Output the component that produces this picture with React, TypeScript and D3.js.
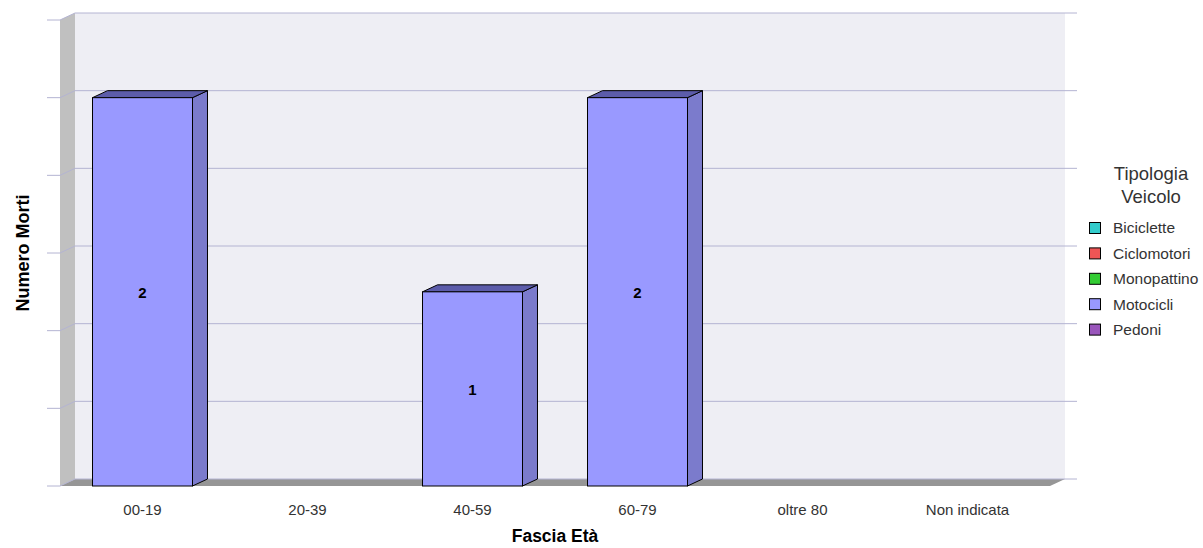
import React from "react";
import * as d3 from "d3";

const categories = ["00-19", "20-39", "40-59", "60-79", "oltre 80", "Non indicata"];
const seriesNames = ["Biciclette", "Ciclomotori", "Monopattino", "Motocicli", "Pedoni"];
const biciclette = [0, 0, 0, 0, 0, 0];
const ciclomotori = [0, 0, 0, 0, 0, 0];
const monopattino = [0, 0, 0, 0, 0, 0];
const motocicli = [2, 0, 1, 2, 0, 0];
const pedoni = [0, 0, 0, 0, 0, 0];
const yTicks = [0, 0.4, 0.8, 1.2, 1.6, 2.0, 2.4];
const seriesColors = ["#33cccc", "#ee5555", "#33cc33", "#9999ff", "#9955bb"];
const sideColors = ["#26999a", "#b34040", "#269926", "#7b7bcc", "#733f8c"];
const topColors = ["#1f7a7a", "#8f3333", "#1f7a1f", "#5c5caa", "#5c3370"];

const FONT = "'Liberation Sans', Arial, Helvetica, sans-serif";

export default function App() {
  const W = 1203, H = 548;
  const x0 = 60, x1 = 1050, yTop = 20, yBot = 486;
  const dx = 15, dy = -7;
  const x = d3.scaleBand<string>().domain(categories).range([x0, x1]).padding(0);
  const y = d3.scaleLinear().domain([0, 2.4]).range([yBot, yTop]);
  const barW = x.bandwidth() * 0.606;

  const rows = categories.map((c, i) => ({
    cat: c,
    Biciclette: biciclette[i],
    Ciclomotori: ciclomotori[i],
    Monopattino: monopattino[i],
    Motocicli: motocicli[i],
    Pedoni: pedoni[i],
  }));
  const stacked = d3.stack<any>().keys(seriesNames)(rows);

  const gridColor = "#b4b4d2";

  return (
    <svg width={W} height={H} style={{ position: "absolute", left: 0, top: 0, background: "#fff" }}>
      {/* back wall */}
      <rect x={x0 + dx} y={yTop + dy} width={x1 - x0} height={yBot - yTop} fill="#eeeef4" />
      {/* left wall */}
      <polygon
        points={`${x0},${yTop} ${x0 + dx},${yTop + dy} ${x0 + dx},${yBot + dy} ${x0},${yBot}`}
        fill="#c0c0c0"
      />
      {/* floor */}
      <polygon
        points={`${x0},${yBot} ${x1},${yBot} ${x1 + dx},${yBot + dy} ${x0 + dx},${yBot + dy}`}
        fill="#969696"
      />
      {/* gridlines */}
      {yTicks.map((t, i) => {
        const yy = y(t);
        return (
          <g key={i}>
            <line x1={47} x2={x0} y1={yy} y2={yy} stroke={gridColor} strokeWidth={1} />
            <polyline
              points={`${x0},${yy} ${x0 + dx},${yy + dy} ${x1 + dx + 12},${yy + dy}`}
              fill="none"
              stroke={gridColor}
              strokeWidth={1}
            />
          </g>
        );
      })}
      {/* bars */}
      {stacked.map((s, si) =>
        s.map((d, ci) => {
          if (d[1] - d[0] <= 0) return null;
          const cx = (x(categories[ci]) as number) + x.bandwidth() / 2;
          const bx = cx - barW / 2;
          const yt = y(d[1]);
          const yb = y(d[0]);
          return (
            <g key={`${si}-${ci}`} stroke="#000" strokeWidth={1} strokeLinejoin="miter">
              <polygon
                points={`${bx + barW},${yt} ${bx + barW + dx},${yt + dy} ${bx + barW + dx},${yb + dy} ${bx + barW},${yb}`}
                fill={sideColors[si]}
              />
              <polygon
                points={`${bx},${yt} ${bx + dx},${yt + dy} ${bx + barW + dx},${yt + dy} ${bx + barW},${yt}`}
                fill={topColors[si]}
              />
              <rect x={bx} y={yt} width={barW} height={yb - yt} fill={seriesColors[si]} />
            </g>
          );
        })
      )}
      {/* value labels */}
      {stacked.map((s, si) =>
        s.map((d, ci) => {
          const v = d[1] - d[0];
          if (v <= 0) return null;
          const cx = (x(categories[ci]) as number) + x.bandwidth() / 2;
          return (
            <text
              key={`l${si}-${ci}`}
              x={cx}
              y={(y(d[0]) + y(d[1])) / 2 + 1}
              dy="0.35em"
              textAnchor="middle"
              fontFamily={FONT}
              fontWeight="bold"
              fontSize={15}
              fill="#000"
            >
              {v}
            </text>
          );
        })
      )}
      {/* category labels */}
      {categories.map((c) => (
        <text
          key={c}
          x={(x(c) as number) + x.bandwidth() / 2}
          y={515}
          textAnchor="middle"
          fontFamily={FONT}
          fontSize={15}
          fill="#333"
        >
          {c}
        </text>
      ))}
      {/* axis titles */}
      <text x={(x0 + x1) / 2} y={542} textAnchor="middle" fontFamily={FONT} fontWeight="bold" fontSize={17.5} fill="#000">
        Fascia Età
      </text>
      <text
        transform={`translate(29,${(yTop + yBot) / 2}) rotate(-90)`}
        textAnchor="middle"
        fontFamily={FONT}
        fontWeight="bold"
        fontSize={18}
        fill="#000"
      >
        Numero Morti
      </text>
      {/* legend */}
      <text x={1151} y={180} textAnchor="middle" fontFamily={FONT} fontSize={18.5} fill="#333">
        Tipologia
      </text>
      <text x={1151} y={203} textAnchor="middle" fontFamily={FONT} fontSize={18.5} fill="#333">
        Veicolo
      </text>
      {seriesNames.map((n, i) => {
        const cy = 228 + i * 25.4;
        return (
          <g key={n}>
            <rect x={1089.5} y={cy - 5.5} width={11} height={11} fill={seriesColors[i]} stroke="#000" strokeWidth={1} />
            <text x={1113} y={cy} dy="0.35em" fontFamily={FONT} fontSize={15.5} fill="#333">
              {n}
            </text>
          </g>
        );
      })}
    </svg>
  );
}
